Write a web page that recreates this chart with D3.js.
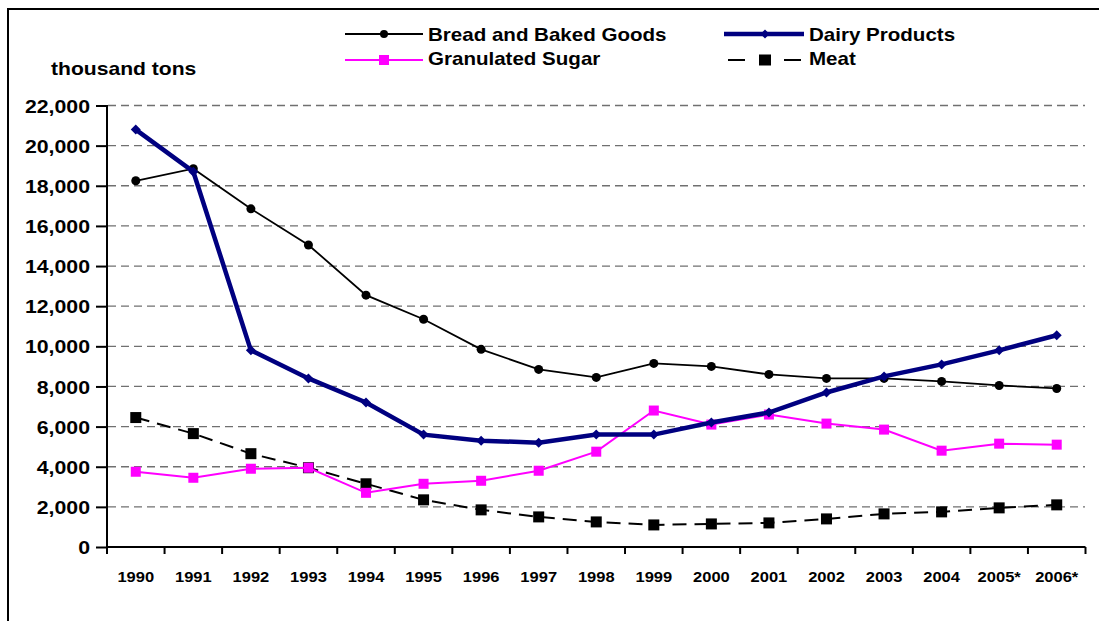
<!DOCTYPE html>
<html><head><meta charset="utf-8">
<script src="https://cdn.jsdelivr.net/npm/d3@7"></script>
<style>
body{margin:0;background:#fff;}
svg{display:block;font-family:"Liberation Sans",Arial,sans-serif;font-weight:bold;}
</style></head>
<body><svg id="c" width="1099" height="621"></svg>
<script>
const years = ["1990","1991","1992","1993","1994","1995","1996","1997","1998","1999","2000","2001","2002","2003","2004","2005*","2006*"];
const bread = [18250,18850,16850,15050,12550,11350,9850,8850,8450,9150,9000,8600,8400,8400,8250,8050,7900];
const dairy = [20800,18700,9800,8400,7200,5600,5300,5200,5600,5600,6200,6700,7700,8500,9100,9800,10550];
const sugar = [3750,3450,3900,3950,2700,3150,3300,3800,4750,6800,6100,6600,6150,5850,4800,5150,5100];
const meat = [6450,5650,4650,3950,3150,2350,1850,1500,1250,1100,1150,1200,1400,1650,1750,1950,2100];
const yTicks = [0,2000,4000,6000,8000,10000,12000,14000,16000,18000,20000,22000];

const svg = d3.select("#c");
const stretch = (sel,k) => sel.each(function(){
  const w = this.getComputedTextLength();
  d3.select(this).attr("textLength", w*k).attr("lengthAdjust","spacingAndGlyphs");
});

// outer frame
svg.append("path").attr("d","M8,621 V9 H1099").attr("fill","none").attr("stroke","#000").attr("stroke-width",2);

const x = d3.scaleBand().domain(years).range([107,1085.5]);
const y = d3.scaleLinear().domain([0,22000]).range([547,105.5]);
const cx = d => x(d)+x.bandwidth()/2;

// gridlines
svg.append("g").selectAll("line").data(yTicks.filter(v=>v>0)).join("line")
  .attr("x1",108).attr("x2",1085).attr("y1",d=>y(d)).attr("y2",d=>y(d))
  .attr("stroke","#707070").attr("stroke-width",1.3).attr("stroke-dasharray","8,5");

// y axis
const ya = svg.append("g").attr("transform","translate(107,0)")
  .call(d3.axisLeft(y).tickValues(yTicks).tickSize(10).tickPadding(7).tickFormat(d3.format(",")));
ya.select(".domain").attr("stroke","#000").attr("stroke-width",2).attr("d","M0,105.5V547");
ya.selectAll(".tick line").attr("stroke","#000").attr("stroke-width",2).attr("x2",-11).attr("x1",1);
ya.selectAll("text").attr("font-size",18.5).attr("font-weight","bold").attr("fill","#000")
  .attr("font-family","Liberation Sans, Arial, sans-serif").attr("dy","0.36em");
stretch(ya.selectAll("text"),1.15);

// x axis
const xa = svg.append("g").attr("transform","translate(0,547)")
  .call(d3.axisBottom(x).tickSize(0).tickPadding(24));
xa.select(".domain").attr("stroke","#000").attr("stroke-width",2).attr("d","M107,0H1085.5");
xa.selectAll("text").attr("font-size",15).attr("font-weight","bold").attr("fill","#000")
  .attr("font-family","Liberation Sans, Arial, sans-serif");
stretch(xa.selectAll("text"),1.1);
svg.append("g").selectAll("line").data(d3.range(years.length+1)).join("line")
  .attr("x1",i=>107+i*x.bandwidth()).attr("x2",i=>107+i*x.bandwidth())
  .attr("y1",547).attr("y2",554).attr("stroke","#000").attr("stroke-width",2);

const title = svg.append("text").attr("x",51).attr("y",75).attr("font-size",18.5).text("thousand tons");
stretch(title,1.14);

const line = d3.line().x((d,i)=>cx(years[i])).y(d=>y(d));

// meat
svg.append("path").datum(meat).attr("d",line).attr("fill","none").attr("stroke","#000")
  .attr("stroke-width",2).attr("stroke-dasharray","14,8");
svg.append("g").selectAll("rect").data(meat).join("rect")
  .attr("x",(d,i)=>cx(years[i])-5.5).attr("y",d=>y(d)-5.5).attr("width",11).attr("height",11).attr("fill","#000");

// sugar
svg.append("path").datum(sugar).attr("d",line).attr("fill","none").attr("stroke","#ff00ff").attr("stroke-width",2);
svg.append("g").selectAll("rect").data(sugar).join("rect")
  .attr("x",(d,i)=>cx(years[i])-5).attr("y",d=>y(d)-5).attr("width",10).attr("height",10).attr("fill","#ff00ff");

// bread
svg.append("path").datum(bread).attr("d",line).attr("fill","none").attr("stroke","#000").attr("stroke-width",1.8);
svg.append("g").selectAll("circle").data(bread).join("circle")
  .attr("cx",(d,i)=>cx(years[i])).attr("cy",d=>y(d)).attr("r",4.5).attr("fill","#000");

// dairy
svg.append("path").datum(dairy).attr("d",line).attr("fill","none").attr("stroke","#000080").attr("stroke-width",4.5);
const diamond = (px,py,s)=>`M${px},${py-s}L${px+s},${py}L${px},${py+s}L${px-s},${py}Z`;
svg.append("g").selectAll("path").data(dairy).join("path")
  .attr("d",(d,i)=>diamond(cx(years[i]),y(d),5)).attr("fill","#000080");

// legend
const lg = svg.append("g").attr("font-size",18.5);
lg.append("line").attr("x1",345).attr("x2",423).attr("y1",34).attr("y2",34).attr("stroke","#000").attr("stroke-width",1.8);
lg.append("circle").attr("cx",384).attr("cy",34).attr("r",4).attr("fill","#000");
lg.append("line").attr("x1",345).attr("x2",423).attr("y1",60).attr("y2",60).attr("stroke","#ff00ff").attr("stroke-width",2);
lg.append("rect").attr("x",379).attr("y",55).attr("width",10).attr("height",10).attr("fill","#ff00ff");
lg.append("line").attr("x1",724).attr("x2",804).attr("y1",34).attr("y2",34).attr("stroke","#000080").attr("stroke-width",4.5);
lg.append("path").attr("d",diamond(765,34,4.5)).attr("fill","#000080");
lg.append("line").attr("x1",728).attr("x2",745).attr("y1",60).attr("y2",60).attr("stroke","#000").attr("stroke-width",2);
lg.append("line").attr("x1",784).attr("x2",801).attr("y1",60).attr("y2",60).attr("stroke","#000").attr("stroke-width",2);
lg.append("rect").attr("x",759).attr("y",54.5).attr("width",12).attr("height",11).attr("fill","#000");
const lt = [
  ["Bread and Baked Goods",428,40.5],["Granulated Sugar",428,64.5],
  ["Dairy Products",809,40.5],["Meat",809,64.5]];
lg.selectAll("text").data(lt).join("text").attr("x",d=>d[1]).attr("y",d=>d[2]).text(d=>d[0]);
stretch(lg.selectAll("text"),1.11);
</script></body></html>
